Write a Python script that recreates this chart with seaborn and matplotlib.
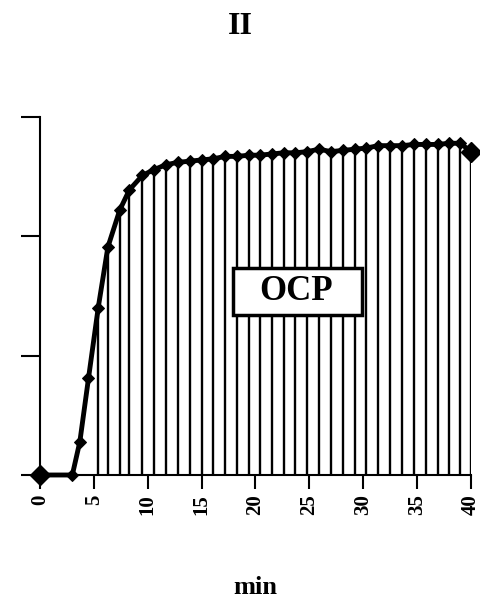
import seaborn as sns
import numpy as np
import pandas as pd
import matplotlib
matplotlib.use("Agg")
import matplotlib.pyplot as plt
from matplotlib.patches import Rectangle

# time (min) and open circuit potential (arbitrary units, axis 0..3)
minutes = [0, 3.0, 3.7, 4.5, 5.4, 6.3, 7.4, 8.3, 9.5, 10.6, 11.7, 12.8, 13.9,
           15.0, 16.1, 17.2, 18.3, 19.4, 20.4, 21.5, 22.6, 23.7, 24.8, 25.9,
           27.0, 28.1, 29.2, 30.3, 31.4, 32.5, 33.6, 34.7, 35.8, 36.9, 38.0,
           39.0, 40.0]
ocp = [0.0, 0.0, 0.28, 0.81, 1.40, 1.91, 2.22, 2.39, 2.51, 2.56, 2.60, 2.62,
       2.63, 2.64, 2.65, 2.67, 2.67, 2.68, 2.68, 2.69, 2.70, 2.70, 2.71, 2.73,
       2.71, 2.72, 2.73, 2.74, 2.76, 2.76, 2.76, 2.77, 2.77, 2.77, 2.78, 2.78,
       2.71]
xticks = [0, 5, 10, 15, 20, 25, 30, 35, 40]
yticks = [0, 1, 2, 3]

df = pd.DataFrame({"min": minutes, "ocp": ocp})

sns.set_style("ticks")
plt.rcParams['font.family'] = ['Liberation Serif', 'DejaVu Serif']
plt.rcParams['text.color'] = 'black'
plt.rcParams['xtick.color'] = 'black'
plt.rcParams['ytick.color'] = 'black'
plt.rcParams['axes.labelcolor'] = 'black'
plt.rcParams['axes.edgecolor'] = 'black'

fig = plt.figure(figsize=(4.81, 6.02), dpi=100)
ax = fig.add_axes([40 / 481, 1 - 475 / 602, 431 / 481, 358 / 602])

# hatch lines under the curve
shade = df[df["min"] >= 5]
ax.vlines(shade["min"], 0, shade["ocp"], colors="black", linewidth=1.7)

sns.lineplot(data=df, x="min", y="ocp", ax=ax, color="black", linewidth=3.5,
             marker="D", markersize=6, markeredgecolor="black", clip_on=False,
             zorder=5)
ax.plot([minutes[0], minutes[-1]], [ocp[0], ocp[-1]], linestyle="none",
        marker="D", markersize=10, color="black", clip_on=False, zorder=6)

ax.set_xlim(0, 40)
ax.set_ylim(0, 3)
ax.set_xticks(xticks)
ax.set_xticklabels([str(t) for t in xticks], rotation=90, fontsize=15,
                   fontweight="bold")
ax.set_yticks(yticks)
ax.set_yticklabels([])
ax.tick_params(axis="x", length=10, width=1.5, pad=4)
ax.tick_params(axis="y", length=14, width=1.5)
for s in ["top", "right"]:
    ax.spines[s].set_visible(False)
ax.spines["left"].set_linewidth(1.5)
ax.spines["bottom"].set_linewidth(1.5)

ax.set_xlabel("min", fontsize=19, fontweight="bold", labelpad=44)
ax.set_ylabel("")

# label box
ax.add_patch(Rectangle((17.9, 1.34), 12.0, 0.395, facecolor="white",
                       edgecolor="black", linewidth=2.5, zorder=7))
ax.text(23.8, 1.54, "OCP", fontsize=25, fontweight="bold", ha="center",
        va="center", zorder=8)

fig.text(240 / 481, 1 - 27 / 602, "II", fontsize=23, fontweight="bold",
         ha="center", va="center")

fig.savefig("out.png", dpi=100)
